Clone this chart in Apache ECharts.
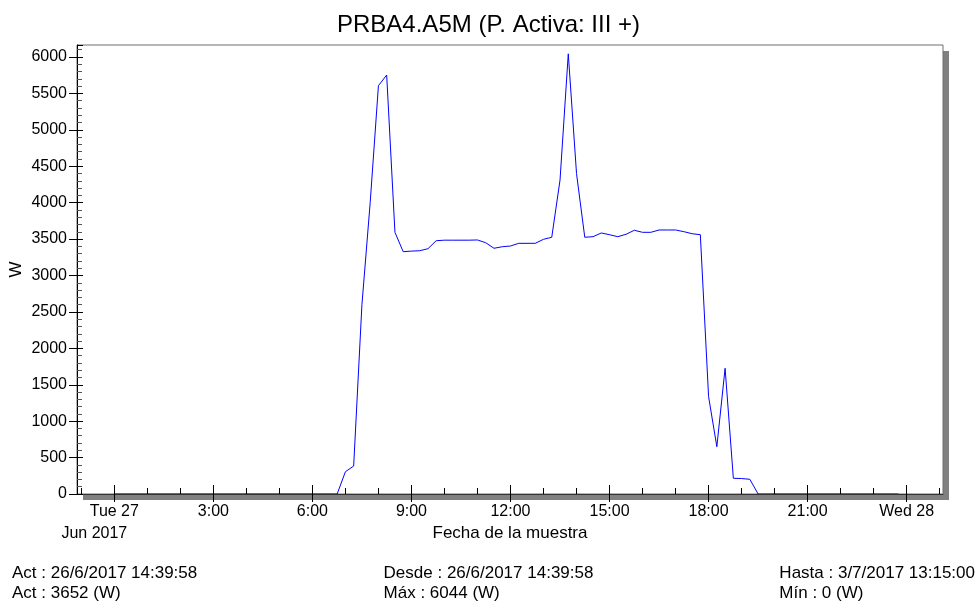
<!DOCTYPE html>
<html>
<head>
<meta charset="utf-8">
<script src="https://cdn.jsdelivr.net/npm/echarts@6/dist/echarts.min.js"></script>
<style>
  html, body { margin: 0; padding: 0; background: #fff; }
  #chart { width: 977px; height: 601px; }
</style>
</head>
<body>
<div id="chart"></div>
<script>
// muestras cada 15 min del martes 27/6/2017 (hora local)
var sampleTimes = ['00:00', '06:30', '06:45', '07:00', '07:15', '07:30', '07:45',
  '08:00', '08:15', '08:30', '08:45', '09:00', '09:15', '09:30', '09:45',
  '10:00', '10:15', '10:30', '10:45', '11:00', '11:15', '11:30', '11:45',
  '12:00', '12:15', '12:30', '12:45', '13:00', '13:15', '13:30', '13:45',
  '14:00', '14:15', '14:30', '14:45', '15:00', '15:15', '15:30', '15:45',
  '16:00', '16:15', '16:30', '16:45', '17:00', '17:15', '17:30', '17:45',
  '18:00', '18:15', '18:30', '18:45', '19:00', '19:15', '19:30', '19:45', '23:45'];
var powerW = [0, 0, 0, 306, 384, 2600, 4000,
  5606, 5753, 3593, 3327, 3335, 3340, 3368, 3478,
  3485, 3485, 3485, 3485, 3488, 3450, 3374, 3395,
  3405, 3442, 3442, 3442, 3497, 3525, 4310, 6044,
  4400, 3525, 3533, 3584, 3560, 3533, 3566, 3621,
  3593, 3593, 3625, 3625, 3625, 3602, 3574, 3560,
  1336, 650, 1726, 216, 212, 202, 0, 0, 0];

// ejes: horas relativas al 27/6 00:00
var majorHours = [0, 3, 6, 9, 12, 15, 18, 21, 24];
var minorHours = [-1, 1, 2, 4, 5, 7, 8, 10, 11, 13, 14, 16, 17, 19, 20, 22, 23, 25];
var axisStart = -1.13;   // 26/6 22:52
var axisEnd = 25.1;      // 28/6 01:06
var yTicks = [0, 6165, 500]; // min, max, paso

var FONT = 'Liberation Sans, Arial, sans-serif';

function toHours(t) {
  var p = t.split(':');
  return +p[0] + (+p[1]) / 60;
}

var seriesData = [];
for (var i = 0; i < sampleTimes.length; i++) {
  seriesData.push([toHours(sampleTimes[i]), powerW[i]]);
}

function hourLabel(v) {
  if (v === 0) return '{d|Tue 27}\n{m|Jun 2017}';
  if (v === 24) return 'Wed 28';
  return v + ':00';
}

var chart = echarts.init(document.getElementById('chart'));

var gridBox = { left: 77, right: 34, top: 45, bottom: 107, outerBoundsMode: 'none', containLabel: false };

var baseX = {
  type: 'value',
  min: axisStart,
  max: axisEnd,
  position: 'bottom',
  splitLine: { show: false },
  z: 5
};

var option = {
  animation: false,
  backgroundColor: '#fff',
  textStyle: { fontFamily: FONT },
  title: {
    text: 'PRBA4.A5M (P. Activa: III +)',
    left: 'center',
    top: 8,
    textStyle: { fontFamily: FONT, fontSize: 24, fontWeight: 'normal', color: '#000' }
  },
  grid: [
    // fondo con sombra gris (derecha y abajo)
    echarts.util.extend({
      show: true,
      backgroundColor: '#fff',
      borderWidth: 0,
      borderColor: 'transparent',
      shadowColor: '#808080',
      shadowBlur: 0,
      shadowOffsetX: 6,
      shadowOffsetY: 6
    }, gridBox),
    // marco
    echarts.util.extend({
      show: true,
      backgroundColor: 'transparent',
      borderColor: '#6e6e6e',
      borderWidth: 1
    }, gridBox)
  ],
  xAxis: [
    echarts.util.extend({
      gridIndex: 0,
      name: 'Fecha de la muestra',
      nameLocation: 'middle',
      nameGap: 31,
      nameMoveOverlap: false,
      nameTextStyle: { fontFamily: FONT, fontSize: 17, color: '#000' },
      axisLine: { show: true, onZero: false, lineStyle: { color: '#333', width: 1 } },
      axisTick: { show: true, inside: false, length: 8, customValues: majorHours, lineStyle: { color: '#000' } },
      axisLabel: {
        customValues: majorHours,
        formatter: hourLabel,
        margin: 7,
        fontFamily: FONT,
        fontSize: 16,
        lineHeight: 22,
        color: '#000',
        rich: {
          d: { fontFamily: FONT, fontSize: 16, lineHeight: 22, color: '#000' },
          m: { fontFamily: FONT, fontSize: 16, lineHeight: 22, color: '#000', padding: [0, 40, 0, 0] }
        }
      }
    }, baseX),
    echarts.util.extend({
      gridIndex: 0,
      axisLine: { show: false, onZero: false },
      axisTick: { show: true, inside: true, length: 9, customValues: majorHours, lineStyle: { color: '#000' } },
      axisLabel: { show: false }
    }, baseX),
    echarts.util.extend({
      gridIndex: 1,
      axisLine: { show: false, onZero: false },
      axisTick: { show: true, inside: true, length: 6, customValues: minorHours, lineStyle: { color: '#000' } },
      axisLabel: { show: false }
    }, baseX)
  ],
  yAxis: [
    {
      gridIndex: 0,
      type: 'value',
      min: yTicks[0],
      max: yTicks[1],
      interval: yTicks[2],
      position: 'left',
      name: 'W',
      nameLocation: 'middle',
      nameGap: 52,
      nameMoveOverlap: false,
      nameTextStyle: { fontFamily: FONT, fontSize: 17, color: '#000' },
      axisLine: { show: true, onZero: false, lineStyle: { color: '#000', width: 1 } },
      axisTick: { show: true, inside: false, length: 8, lineStyle: { color: '#000' } },
      axisLabel: {
        margin: 10, fontFamily: FONT, fontSize: 16, color: '#000', showMaxLabel: false,
        formatter: function (v) { return String(v); }
      },
      splitLine: { show: false },
      z: 5
    },
    {
      gridIndex: 1,
      type: 'value',
      min: yTicks[0],
      max: yTicks[1],
      interval: yTicks[2],
      position: 'left',
      axisLine: { show: false, onZero: false },
      axisTick: { show: true, inside: true, length: 6, lineStyle: { color: '#000' } },
      minorTick: { show: true, splitNumber: 5, length: 5, lineStyle: { color: '#555' } },
      axisLabel: { show: false },
      splitLine: { show: false },
      z: 5
    }
  ],
  series: [
    {
      name: 'P. Activa: III +',
      type: 'line',
      xAxisIndex: 0,
      yAxisIndex: 0,
      data: seriesData,
      showSymbol: false,
      symbol: 'none',
      lineStyle: { color: '#0000ff', width: 1 },
      itemStyle: { color: '#0000ff' },
      z: 2
    }
  ],
  graphic: [
    {
      type: 'text',
      left: 12,
      top: 563,
      style: { text: 'Act : 26/6/2017 14:39:58\nAct : 3652 (W)', font: '17px ' + FONT, lineHeight: 20, fill: '#000' }
    },
    {
      type: 'text',
      left: 'center',
      top: 563,
      style: { text: 'Desde : 26/6/2017 14:39:58\nMáx : 6044 (W)', font: '17px ' + FONT, lineHeight: 20, fill: '#000', align: 'center' }
    },
    {
      type: 'text',
      right: 2,
      top: 563,
      style: { text: 'Hasta : 3/7/2017 13:15:00\nMín : 0 (W)', font: '17px ' + FONT, lineHeight: 20, fill: '#000', align: 'right' }
    }
  ]
};

chart.setOption(option);
</script>
</body>
</html>
